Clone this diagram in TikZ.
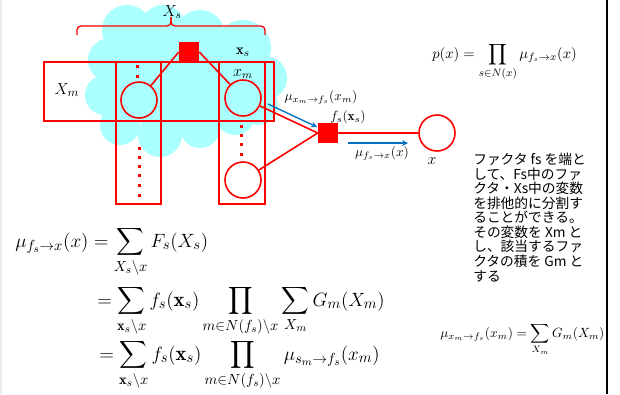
\documentclass[tikz,border=0pt]{standalone}
\usepackage{amsmath}
\usepackage{fontspec}
\newfontfamily\jpfont{Noto Sans CJK JP}
\definecolor{cloudcyan}{RGB}{170,255,255}
\definecolor{msgblue}{RGB}{0,112,192}
\tikzset{
  var/.style={circle, draw=red, line width=1.2pt, minimum size=27pt, inner sep=0pt},
  fac/.style={rectangle, fill=red, minimum size=15pt, inner sep=0pt},
  grp/.style={draw=red, line width=1.2pt},
  edge/.style={red, line width=1.2pt},
  msg/.style={->, msgblue, line width=1pt},
  lbl/.style={inner sep=0pt, font=\fontsize{10}{12}\selectfont},
  eqn/.style={anchor=base west, inner sep=0pt, font=\fontsize{15.5}{18}\selectfont},
}
\begin{document}
\begin{tikzpicture}[x=0.75pt, y=-0.75pt, >=stealth]
    \useasboundingbox (0,0) rectangle (620,394);
    \fill[white] (0,0) rectangle (620,394);
    \draw[gray!15, line width=0.8pt] (1,0) -- (1,394);

    % --- 1. Cloud of X_s ---
    \fill[cloudcyan]
      \foreach \cx/\cy/\r in {127/30/25, 163/27/22, 200/35/25, 243/48/28, 265/78/22,
                              258/105/20, 110/60/22, 105/95/20, 120/125/20, 160/135/22,
                              200/128/20, 235/115/20, 185/80/50, 160/105/25, 205/105/25,
                              140/80/25, 125/100/25, 240/90/25, 150/50/25}
        {(\cx,\cy) circle (\r)};

    % brace over the cloud
    \draw[red, line width=1pt, rounded corners=3pt] (77,35) -- (77,26) -- (171,26) -- (171,17);
    \draw[red, line width=1pt, rounded corners=3pt] (265,35) -- (265,26) -- (171,26) -- (171,17);

    % groups X_m
    \draw[grp] (44,62) rectangle (274,121);
    \draw[grp] (116,62) rectangle (161,204);
    \draw[grp] (219,62) rectangle (265,204);

    % dots
    \foreach \y in {66,76} \fill[red] (137,\y) ++(-1.5,-1.5) rectangle ++(3,3);
    \foreach \y in {148,157,166,175,185,195} \fill[red] (139,\y) ++(-1.5,-1.5) rectangle ++(3,3);
    \foreach \y in {126,135,144,154} \fill[red] (241,\y) ++(-1.5,-1.5) rectangle ++(3,3);

    % --- 2. Factor graph ---
    \node[var] (xl) at (139,100) {};
    \node[var] (xt) at (243,98) {};
    \node[var] (xb) at (243,180) {};
    \node[var] (x) at (437,133) {};
    \node[fac] (fs) at (189,52) {};
    \node[fac] (fx) at (328,133) {};

    \draw[edge] (fs.west) -- (xl);
    \draw[edge] (fs.east) -- (xt);
    \draw[edge] (xt) -- (fx.west);
    \draw[edge] (xb) -- (fx.west);
    \draw[edge] (fx) -- (x);

    % messages
    \coordinate (m1s) at (268,104);
    \coordinate (m1e) at (317,127);
    \coordinate (m2s) at (348,143);
    \coordinate (m2e) at (408,143);
    \draw[msg] (m1s) -- (m1e);
    \draw[msg] (m2s) -- (m2e);

    % labels
    \node[lbl, font=\fontsize{12}{14}\selectfont] (lXs) at (172,12) {$X_s$};
    \node[lbl, font=\fontsize{13}{15}\selectfont] (lXm) at (67,90) {$X_m$};
    \node[lbl, font=\fontsize{11}{13}\selectfont] (lxs) at (243,52) {$\mathbf{x}_s$};
    \node[lbl, font=\fontsize{12}{14}\selectfont] (lxm) at (243,74) {$x_m$};
    \node[lbl] (lm1) at (321,97) {$\mu_{x_m\to f_s}(x_m)$};
    \node[lbl] (lfs) at (348,117) {$f_s(\mathbf{x}_s)$};
    \node[lbl] (lm2) at (382,153) {$\mu_{f_s\to x}(x)$};
    \node[lbl, font=\fontsize{12}{14}\selectfont] (lx) at (432,161) {$x$};

    % --- 3. Formulas ---
    \node[eqn, font=\fontsize{11}{13}\selectfont] (px) at (432,58)
      {$p(x)=\displaystyle\prod_{s\in N(x)}\mu_{f_s\to x}(x)$};
    \node[eqn, font=\fontsize{10.3}{12}\selectfont] (mxf) at (440,337)
      {$\mu_{x_m\to f_s}(x_m)=\displaystyle\sum_{X_m}G_m(X_m)$};

    \node[eqn] (eq1) at (15,247)
      {$\displaystyle\mu_{f_s\to x}(x)=\sum_{X_s\backslash x}F_s(X_s)$};
    \node[eqn] (eq2) at (97,306)
      {$\displaystyle=\sum_{\mathbf{x}_s\backslash x}f_s(\mathbf{x}_s)\prod_{m\in N(f_s)\backslash x}\sum_{X_m}G_m(X_m)$};
    \node[eqn] (eq3) at (99,360)
      {$\displaystyle=\sum_{\mathbf{x}_s\backslash x}f_s(\mathbf{x}_s)\prod_{m\in N(f_s)\backslash x}\mu_{s_m\to f_s}(x_m)$};

    % --- 4. Note ---
    \node[anchor=north west, inner sep=0pt, align=left, font=\jpfont\fontsize{10.3}{10.9}\selectfont] (note) at (473,153)
      {ファクタ fs を端と\\して、Fs中のファ\\クタ・Xs中の変数\\を排他的に分割す\\ることができる。\\その変数を Xm と\\し、該当するファ\\クタの積を Gm と\\する};

    \draw[line width=2pt] (607,0) -- (607,394);
\end{tikzpicture}
\end{document}
